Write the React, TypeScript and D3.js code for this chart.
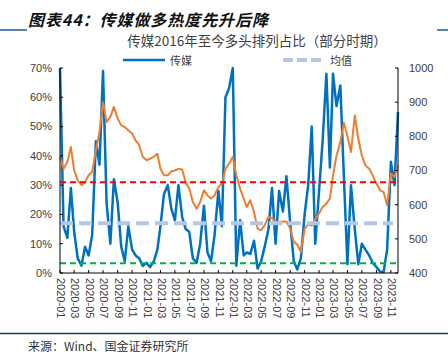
import * as d3 from "d3";

// 传媒多头排列占比（左轴）与传媒指数（右轴），半月一个点
const blueValues = [70, 16, 12, 29, 14, 5, 2.5, 9, 6, 13, 45, 37, 69, 24, 10, 32, 24, 9, 4, 16, 8, 6, 5, 2.4, 3.5, 2, 4, 8, 16, 27, 30, 22, 18, 30, 19, 15, 14, 5, 3.5, 10, 23, 7, 4, 13, 28, 16, 60, 63, 70, 2.5, 18, 6, 7, 6.5, 11, 1.5, 4, 9, 15, 29, 10, 28, 21, 33, 17, 4, 1.2, 5, 20, 30, 50, 10, 28, 45, 68, 36, 68, 57, 64, 33, 3, 30, 15, 3, 10, 8, 6, 3.5, 2, 0.5, 0.3, 8, 38, 30, 55];
const orangeValues = [740, 705, 725, 769, 700, 671, 657, 666, 686, 696, 759, 813, 900, 842, 857, 886, 852, 832, 827, 818, 808, 788, 774, 740, 730, 735, 740, 749, 705, 686, 686, 698, 700, 705, 703, 664, 647, 608, 588, 608, 642, 627, 618, 627, 652, 661, 705, 720, 740, 686, 647, 618, 593, 613, 578, 530, 525, 540, 564, 561, 551, 549, 551, 551, 530, 491, 483, 461, 530, 542, 539, 557, 574, 593, 603, 618, 686, 744, 783, 840, 800, 754, 861, 793, 744, 715, 705, 686, 661, 642, 637, 598, 691, 681, 715];
const meanLevel = 17; // 均值
const redLevel = 31;
const greenLevel = 3.3;
const leftTicks = [0, 10, 20, 30, 40, 50, 60, 70];
const rightTicks = [400, 500, 600, 700, 800, 900, 1000];

const W = 448;
const H = 353;
const m = { left: 60, right: 398, top: 68, bottom: 273 };
const CJK = '"Noto Sans CJK SC", "Noto Sans", sans-serif';
const LAT = '"Liberation Sans", Arial, sans-serif';

const dateOf = (i: number) => new Date(2020, Math.floor(i / 2), i % 2 ? 16 : 1);

export default function App() {
  const x = d3.scaleTime().domain([new Date(2020, 0, 1), new Date(2023, 11, 1)]).range([m.left, m.right]);
  const yL = d3.scaleLinear().domain([0, 70]).range([m.bottom, m.top]);
  const yR = d3.scaleLinear().domain([400, 1000]).range([m.bottom, m.top]);

  const blueLine = d3.line<number>().x((_, i) => x(dateOf(i))).y((d) => yL(d));
  const orangeLine = d3.line<number>().x((_, i) => x(dateOf(i))).y((d) => yR(d));

  const xTicks = d3.timeMonth.every(2)!.range(new Date(2020, 0, 1), new Date(2023, 11, 1));
  const fmt = d3.timeFormat("%Y-%m");

  return (
    <div style={{ position: "fixed", left: 0, top: 0 }}>
      <svg width={W} height={H} style={{ display: "block", background: "#fff" }}>
        {/* header */}
        <line x1={0} x2={27} y1={30} y2={30} stroke="#1f5c99" strokeWidth={1.5} />
        <line x1={437} x2={448} y1={30} y2={30} stroke="#1f5c99" strokeWidth={1.5} />
        <text x={28} y={26} fontFamily={CJK} fontSize={16} fontWeight="bold" fontStyle="italic" fill="#111" textLength={240}>
          图表44：传媒做多热度先升后降
        </text>
        <text x={257} y={46} textAnchor="middle" fontFamily={CJK} fontSize={13.5} fill="#404040">
          传媒2016年至今多头排列占比（部分时期）
        </text>

        {/* legend */}
        <line x1={123} x2={165} y1={60} y2={60} stroke="#0070c0" strokeWidth={2.5} />
        <text x={170} y={65} fontFamily={CJK} fontSize={11} fill="#404040">传媒</text>
        <line x1={283} x2={322} y1={60} y2={60} stroke="#b4c7e7" strokeWidth={4} strokeDasharray="10,4" />
        <text x={330} y={65} fontFamily={CJK} fontSize={11} fill="#404040">均值</text>

        {/* series */}
        <path d={blueLine(blueValues) ?? ""} fill="none" stroke="#0070c0" strokeWidth={2.5} strokeLinejoin="round" />
        <path d={orangeLine(orangeValues) ?? ""} fill="none" stroke="#ed7d31" strokeWidth={2} strokeLinejoin="round" />

        {/* reference lines */}
        <line x1={m.left} x2={m.right} y1={yL(redLevel)} y2={yL(redLevel)} stroke="#ff0000" strokeWidth={2} strokeDasharray="6,4" />
        <line x1={m.left} x2={393} y1={yL(meanLevel)} y2={yL(meanLevel)} stroke="#b4c7e7" strokeWidth={4} strokeDasharray="13,6" />
        <line x1={m.left} x2={m.right} y1={yL(greenLevel)} y2={yL(greenLevel)} stroke="#00b050" strokeWidth={2} strokeDasharray="6,4" />

        {/* axes */}
        <line x1={m.left} x2={m.left} y1={m.top} y2={m.bottom} stroke="#000" />
        <line x1={m.right} x2={m.right} y1={m.top} y2={m.bottom} stroke="#000" />
        <line x1={m.left} x2={m.right} y1={m.bottom} y2={m.bottom} stroke="#000" />
        {leftTicks.map((t) => (
          <g key={"l" + t}>
            <line x1={m.left} x2={m.left + 3} y1={yL(t)} y2={yL(t)} stroke="#000" />
            <text x={52} y={yL(t)} dy="0.35em" textAnchor="end" fontFamily={LAT} fontSize={11} fill="#404040">
              {t}%
            </text>
          </g>
        ))}
        {rightTicks.map((t) => (
          <g key={"r" + t}>
            <line x1={m.right - 3} x2={m.right} y1={yR(t)} y2={yR(t)} stroke="#000" />
            <text x={409} y={yR(t)} dy="0.35em" fontFamily={LAT} fontSize={11} fill="#404040">
              {t}
            </text>
          </g>
        ))}
        {xTicks.map((d) => (
          <g key={fmt(d)}>
            <line x1={x(d)} x2={x(d)} y1={m.bottom} y2={m.bottom - 3} stroke="#000" />
            <text
              transform={`translate(${x(d)},278) rotate(90)`}
              dy="0.25em"
              fontFamily={LAT}
              fontSize={11}
              fill="#404040"
            >
              {fmt(d)}
            </text>
          </g>
        ))}

        {/* footer */}
        <line x1={0} x2={448} y1={333.5} y2={333.5} stroke="#1f3a5f" strokeWidth={1.5} />
        <text x={28} y={351} fontFamily={CJK} fontSize={12} fill="#333">来源：Wind、国金证券研究所</text>
      </svg>
    </div>
  );
}
